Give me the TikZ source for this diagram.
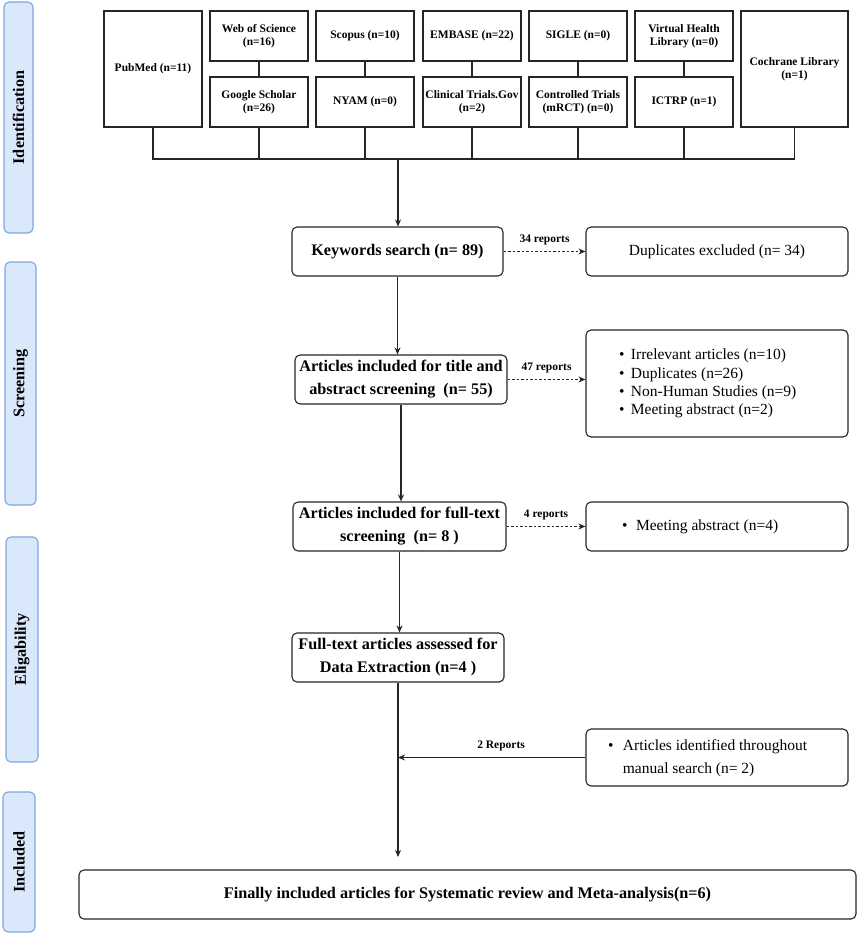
\documentclass[tikz,border=0pt]{standalone}
\usepackage{fontspec}
\setmainfont{Liberation Serif}
\usetikzlibrary{arrows.meta,calc}
\definecolor{lanec}{HTML}{DAE8FC}
\definecolor{laneb}{HTML}{7EA6E0}
\definecolor{ink}{HTML}{262626}
\begin{document}
\begin{tikzpicture}[x=1pt,y=-1pt,
 src/.style={draw=ink, line width=1.1pt, minimum width=98pt, minimum height=50pt, inner sep=1pt, align=center, font=\fontsize{11.5}{13.3}\selectfont\bfseries},
 srctall/.style={src, minimum height=116pt},
 mainbox/.style={draw=ink, line width=1.1pt, rounded corners=5pt, minimum height=49pt, inner sep=1pt, align=center, font=\fontsize{16.2}{23}\selectfont\bfseries},
 exbox/.style={draw=ink, line width=1.1pt, rounded corners=5pt, minimum width=262pt, inner sep=0pt, font=\fontsize{15.5}{18.3}\selectfont},
 lane/.style={draw=laneb, fill=lanec, line width=1.1pt, rounded corners=5pt, rotate=90, inner sep=0pt, font=\fontsize{16.2}{18}\selectfont\bfseries},
 arr/.style={draw=ink, line width=1.1pt, -{Stealth[length=7pt,width=6pt]}},
 darr/.style={arr, dash pattern=on 2.5pt off 2pt},
 lbl/.style={font=\fontsize{11.5}{13}\selectfont\bfseries, inner sep=1pt},
 wire/.style={draw=ink, line width=1.1pt}]
\fill[white] (0,0) rectangle (858,934);
\useasboundingbox (0,0) rectangle (858,934);

% lanes
\node[lane, minimum width=231pt, minimum height=29pt] (lid) at (18.5,117.5) {Identification};
\node[lane, minimum width=243pt, minimum height=31pt] (lsc) at (20.5,383.5) {Screening};
\node[lane, minimum width=225pt, minimum height=32pt] (lel) at (22,649.5) {Eligability};
\node[lane, minimum width=140pt, minimum height=32pt] (lin) at (19,862) {Included};

% sources
\node[srctall] (pub) at (153,69) {PubMed (n=11)};
\node[src] (wos) at (259,36) {Web of Science\\(n=16)};
\node[src] (gs) at (259,102) {Google Scholar\\(n=26)};
\node[src] (sco) at (365,36) {Scopus (n=10)};
\node[src] (nyam) at (365,102) {NYAM (n=0)};
\node[src] (emb) at (472,36) {EMBASE (n=22)};
\node[src] (ctg) at (472,102) {Clinical Trials.Gov\\(n=2)};
\node[src] (sig) at (578,36) {SIGLE (n=0)};
\node[src] (ctr) at (578,102) {Controlled Trials\\(mRCT) (n=0)};
\node[src] (vhl) at (684,36) {Virtual Health\\Library (n=0)};
\node[src] (ict) at (684,102) {ICTRP (n=1)};
\node[srctall, minimum width=107pt] (coc) at (794.5,69) {Cochrane Library\\(n=1)};

\draw[wire] (wos) -- (gs);
\draw[wire] (sco) -- (nyam);
\draw[wire] (emb) -- (ctg);
\draw[wire] (sig) -- (ctr);
\draw[wire] (vhl) -- (ict);

\coordinate (bus) at (398,159);
\draw[wire] (pub.south) -- (pub.south |- bus) -- (coc.south |- bus) -- (coc.south);
\draw[wire] (gs.south) -- (gs.south |- bus);
\draw[wire] (nyam.south) -- (nyam.south |- bus);
\draw[wire] (ctg.south) -- (ctg.south |- bus);
\draw[wire] (ctr.south) -- (ctr.south |- bus);
\draw[wire] (ict.south) -- (ict.south |- bus);

% main flow
\node[mainbox, minimum width=211pt] (kw) at (397.5,251.5) {Keywords search (n= 89)};
\node[mainbox, minimum width=262pt, font=\fontsize{15.5}{18.3}\selectfont] (dup) at (717,251.5) {Duplicates excluded (n= 34)};
\node[mainbox, minimum width=212pt] (tas) at (401,379.5) {Articles included for title and\\abstract screening~~(n= 55)};
\node[exbox, minimum height=107pt] (ex2) at (717,383.5) {\makebox[262pt][l]{\hspace*{33pt}\begin{tabular}{@{}l@{\hspace{6.5pt}}l@{}}•&Irrelevant articles (n=10)\\ •&Duplicates (n=26)\\ •&Non-Human Studies (n=9)\\ •&Meeting abstract (n=2)\end{tabular}}};
\node[mainbox, minimum width=213pt] (fts) at (399.5,526.5) {Articles included for full-text\\screening~~(n= 8 )};
\node[exbox, minimum height=49pt] (ex3) at (717,526.5) {\makebox[262pt][l]{\hspace*{36pt}•\hspace{8.6pt}Meeting abstract (n=4)}};
\node[mainbox, minimum width=212pt] (ass) at (398,657.5) {Full-text articles assessed for\\Data Extraction (n=4 )};
\node[exbox, minimum height=57pt, font=\fontsize{15.5}{23}\selectfont] (man) at (717,757.5) {\makebox[262pt][l]{\hspace*{22pt}\begin{tabular}{@{}l@{\hspace{9.5pt}}l@{}}•&Articles identified throughout\\&manual search (n= 2)\end{tabular}}};
\node[mainbox, minimum width=777pt] (fin) at (467.5,894.5) {Finally included articles for Systematic review and Meta-analysis(n=6)};

\draw[arr] (bus) -- (bus |- kw.north);
\draw[arr] (kw.south) -- (kw.south |- tas.north);
\draw[arr] (tas.south) -- (tas.south |- fts.north);
\draw[arr] (fts.south) -- (fts.south |- ass.north);
\coordinate (fend) at (398,857);
\draw[arr] (ass.south) -- (ass.south |- fend);

\draw[darr] (kw.east) -- (kw.east -| dup.west) node[lbl, midway, above=5pt] {34 reports};
\draw[darr] (tas.east) -- (tas.east -| ex2.west) node[lbl, midway, above=5pt] {47 reports};
\draw[darr] (fts.east) -- (fts.east -| ex3.west) node[lbl, midway, above=5pt] {4 reports};
\draw[arr] (man.west) -- (man.west -| ass.south) node[lbl, pos=0.45, above=5pt] {2 Reports};
\end{tikzpicture}
\end{document}
